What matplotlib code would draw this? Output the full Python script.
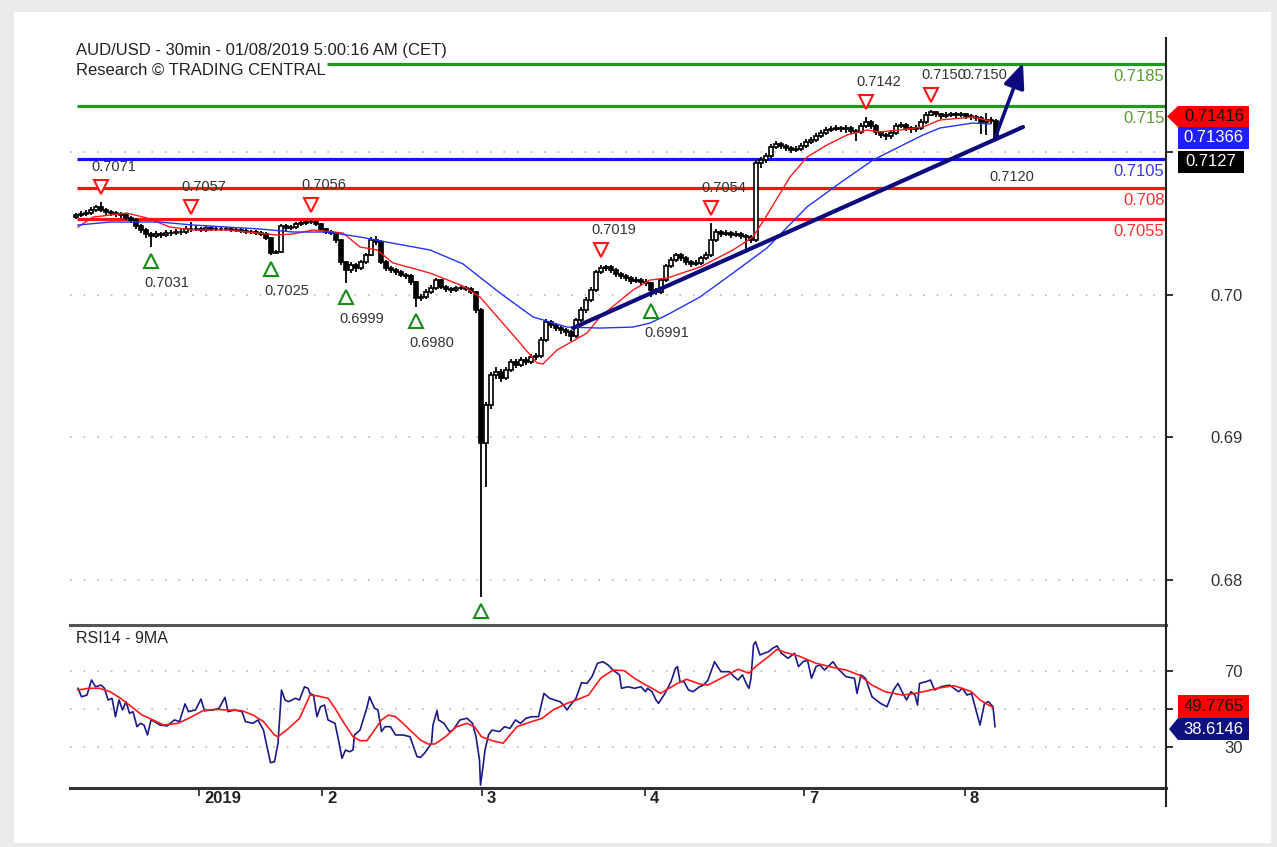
import matplotlib
matplotlib.use('Agg')
import matplotlib.pyplot as plt
import numpy as np
from matplotlib.patches import Rectangle, Polygon
from matplotlib.lines import Line2D
from matplotlib.transforms import offset_copy, ScaledTranslation, blended_transform_factory

plt.rcParams['font.family'] = ['Liberation Sans', 'DejaVu Sans']

# ---------------- data ----------------
# 30-min candles, prices in 1e-5 units (70561 -> 0.70561)
first_open = 70550
closes = [
    70561, 70568, 70575, 70597, 70618, 70597, 70582, 70575, 70568, 70561,
    70540, 70526, 70484, 70456, 70428, 70414, 70428, 70421, 70435, 70435,
    70442, 70442, 70463, 70463, 70463, 70456, 70470, 70463, 70463, 70463,
    70463, 70456, 70456, 70449, 70442, 70442, 70435, 70428, 70400, 70295,
    70302, 70484, 70470, 70477, 70498, 70505, 70512, 70512, 70498, 70463,
    70442, 70435, 70386, 70232, 70175, 70211, 70189, 70232, 70281, 70386,
    70372, 70232, 70189, 70175, 70161, 70140, 70133, 70091, 69979, 69986,
    70021, 70049, 70105, 70056, 70042, 70035, 70049, 70049, 70042, 70021,
    69895, 68961, 69228, 69439, 69460, 69418, 69474, 69530, 69509, 69544,
    69530, 69565, 69572, 69684, 69811, 69789, 69768, 69754, 69740, 69712,
    69825, 69895, 69965, 70035, 70161, 70189, 70196, 70175, 70147, 70133,
    70119, 70098, 70105, 70091, 70084, 70035, 70021, 70105, 70204, 70246,
    70281, 70260, 70232, 70218, 70225, 70260, 70281, 70386, 70442, 70428,
    70435, 70421, 70428, 70414, 70407, 70386, 70926, 70947, 70975, 71039,
    71060, 71046, 71032, 71018, 71025, 71046, 71074, 71088, 71116, 71137,
    71158, 71165, 71172, 71165, 71172, 71151, 71144, 71186, 71214, 71186,
    71144, 71123, 71116, 71137, 71186, 71193, 71172, 71165, 71172, 71214,
    71263, 71284, 71270, 71256, 71263, 71270, 71263, 71270, 71256, 71249,
    71242, 71214, 71228, 71221, 71109]
highs = [
    70575, 70589, 70596, 70618, 70632, 70653, 70611, 70596, 70589, 70582,
    70575, 70554, 70540, 70498, 70470, 70442, 70449, 70442, 70456, 70456,
    70463, 70463, 70484, 70512, 70484, 70477, 70491, 70484, 70477, 70484,
    70477, 70477, 70470, 70470, 70463, 70456, 70456, 70449, 70442, 70407,
    70316, 70498, 70498, 70491, 70512, 70519, 70519, 70526, 70519, 70505,
    70470, 70456, 70442, 70393, 70239, 70232, 70225, 70246, 70295, 70407,
    70414, 70386, 70246, 70203, 70189, 70175, 70154, 70147, 70098, 70007,
    70042, 70070, 70119, 70112, 70070, 70056, 70063, 70063, 70063, 70056,
    70028, 69909, 69249, 69460, 69495, 69481, 69495, 69551, 69551, 69565,
    69565, 69586, 69593, 69705, 69832, 69825, 69804, 69782, 69768, 69754,
    69839, 69916, 69986, 70056, 70175, 70211, 70210, 70210, 70189, 70161,
    70147, 70133, 70126, 70119, 70112, 70091, 70049, 70119, 70218, 70267,
    70295, 70295, 70274, 70246, 70246, 70274, 70302, 70505, 70463, 70456,
    70456, 70449, 70449, 70442, 70428, 70421, 70947, 70968, 70996, 71060,
    71081, 71074, 71060, 71046, 71046, 71067, 71095, 71109, 71137, 71158,
    71179, 71186, 71193, 71186, 71193, 71186, 71165, 71207, 71249, 71228,
    71200, 71151, 71137, 71158, 71207, 71214, 71207, 71186, 71193, 71235,
    71284, 71298, 71291, 71277, 71284, 71284, 71284, 71284, 71277, 71270,
    71263, 71256, 71277, 71249, 71235]
lows = [
    70536, 70547, 70554, 70561, 70582, 70582, 70561, 70554, 70547, 70540,
    70526, 70505, 70463, 70435, 70400, 70337, 70400, 70400, 70407, 70414,
    70421, 70421, 70428, 70442, 70449, 70442, 70442, 70449, 70449, 70449,
    70449, 70442, 70442, 70435, 70428, 70428, 70421, 70414, 70386, 70281,
    70288, 70295, 70449, 70456, 70463, 70484, 70491, 70498, 70484, 70449,
    70428, 70421, 70365, 70211, 70084, 70154, 70161, 70175, 70218, 70274,
    70351, 70218, 70168, 70154, 70140, 70126, 70112, 70070, 69916, 69958,
    69972, 70007, 70035, 70042, 70021, 70014, 70021, 70035, 70028, 70007,
    69874, 67881, 68653, 69200, 69411, 69390, 69404, 69460, 69488, 69495,
    69509, 69516, 69544, 69558, 69670, 69768, 69747, 69726, 69712, 69677,
    69698, 69811, 69874, 69951, 70021, 70147, 70168, 70154, 70126, 70112,
    70098, 70077, 70084, 70070, 70063, 69986, 70000, 70007, 70091, 70189,
    70232, 70239, 70211, 70197, 70204, 70211, 70246, 70267, 70372, 70407,
    70414, 70400, 70407, 70393, 70295, 70365, 70372, 70891, 70926, 70961,
    71025, 71025, 71011, 70996, 71004, 71011, 71032, 71060, 71074, 71102,
    71123, 71144, 71151, 71144, 71137, 71130, 71081, 71130, 71172, 71165,
    71123, 71102, 71088, 71095, 71123, 71172, 71151, 71137, 71144, 71158,
    71200, 71256, 71249, 71235, 71242, 71249, 71242, 71249, 71235, 71228,
    71221, 71130, 71123, 71200, 71088]

# moving averages (bar position, price 1e-5)
red_ma_x = [0.4, 3.4, 10.2, 14.2, 18.8, 23.4, 30.2, 34.2, 40.2, 43.4, 47.4, 53.4, 56.8, 60.2,
            63.4, 70.8, 77.4, 80.8, 84.8, 88.8, 92.2, 93.4, 96.2, 102.2, 104.8, 111.4, 114.8,
            118.2, 124.8, 131.4, 135.4, 138.2, 142.8, 146.2, 150.2, 154.2, 158.2, 160.8, 164.8,
            169.4, 172.8, 179.4, 182.8]
red_ma_v = [70477, 70547, 70575, 70540, 70477, 70456, 70456, 70442, 70421, 70428, 70456, 70435,
            70337, 70316, 70225, 70154, 70063, 69986, 69825, 69663, 69523, 69516, 69614, 69733,
            69846, 70035, 70105, 70119, 70196, 70316, 70407, 70561, 70828, 70968, 71053, 71123,
            71158, 71144, 71158, 71179, 71228, 71249, 71221]
blue_ma_x = [0.4, 6.8, 16.8, 23.4, 36.8, 43.4, 50.2, 56.8, 64.2, 70.8, 77.4, 84.8, 91.4, 98.2,
             104.8, 111.4, 114.8, 118.2, 124.8, 131.4, 138.2, 146.2, 152.8, 159.4, 166.2, 169.4,
             172.8, 179.4, 182.8]
blue_ma_v = [70491, 70512, 70512, 70491, 70463, 70442, 70442, 70407, 70358, 70316, 70218, 70014,
             69846, 69775, 69768, 69775, 69803, 69860, 69986, 70154, 70330, 70618, 70786, 70947,
             71067, 71123, 71172, 71207, 71200]

# pivots
pivot_high_idx = [5, 23, 47, 105, 127, 158, 171]
pivot_high_lbl = ['0.7071', '0.7057', '0.7056', '0.7019', '0.7054', '0.7142', '0.7150']
pivot_low_idx = [15, 39, 54, 68, 81, 115]
pivot_low_lbl = ['0.7031', '0.7025', '0.6999', '0.6980', '', '0.6991']
extra_lbl = ['0.7150', '0.7120']
extra_lbl_x = [181.8, 187.2]
extra_lbl_y = [0.715439, 0.708281]

# support / resistance levels (drawn value, label)
level_vals = [0.716211, 0.713263, 0.709544, 0.707509, 0.705333]
level_start = [50.2, 0.2, 0.2, 0.2, 0.2]
level_labels = ['0.7185', '0.715', '0.7105', '0.708', '0.7055']
level_kind = ['g', 'g', 'b', 'r', 'r']

trend_x = [99.4, 189.4]
trend_y = [0.697684, 0.711789]
arrow_from = (183.8, 0.711018)
arrow_to = (189.4, 0.716281)

price_ticks = [0.68, 0.69, 0.70, 0.71]
price_tick_lbl = ['0.68', '0.69', '0.70', '']
date_pos = [24.6, 49.2, 81.2, 113.8, 145.6, 177.8]
date_lbl = ['2019', '2', '3', '4', '7', '8']

# RSI14 and its 9MA
rsi_x = [0.4, 1.1, 2.2, 3.1, 3.9, 5.0, 5.7, 6.4, 7.2, 7.9, 8.6, 9.3, 10.0, 10.7, 11.4, 12.2, 12.9,
         13.6, 14.3, 15.0, 15.7, 16.8, 18.2, 19.7, 20.7, 21.8, 22.5, 23.9, 25.0, 25.7, 27.5, 28.6,
         29.8, 30.4, 31.8, 33.2, 33.9, 35.4, 36.4, 37.5, 38.2, 38.9, 39.7, 40.4, 41.1, 41.8, 42.5,
         43.9, 44.7, 45.7, 46.4, 46.8, 47.5, 48.2, 48.9, 49.7, 50.4, 51.8, 52.5, 53.2, 53.9, 54.7,
         55.4, 55.7, 56.8, 58.2, 58.7, 59.7, 60.4, 61.1, 61.8, 62.9, 63.9, 65.4, 66.8, 67.5, 68.2,
         68.9, 69.7, 71.1, 71.4, 72.2, 72.5, 73.6, 74.7, 75.4, 76.8, 78.2, 79.3, 80.0, 80.7, 80.9,
         81.4, 81.8, 82.5, 83.2, 84.7, 85.7, 86.8, 87.9, 88.9, 90.0, 91.1, 92.5, 93.6, 94.7, 95.7,
         96.8, 97.5, 98.2, 98.9, 100.0, 101.1, 102.2, 103.2, 104.3, 105.4, 106.4, 107.4, 108.7,
         109.1, 110.4, 111.7, 113.0, 113.9, 114.3, 115.2, 116.0, 116.5, 117.8, 119.0, 119.9,
         120.3, 120.8, 121.6, 122.5, 123.4, 124.7, 125.5, 126.4, 127.7, 129.0, 130.7, 131.6,
         132.4, 133.3, 134.2, 134.6, 135.0, 135.5, 135.9, 136.8, 137.6, 138.5, 139.3, 140.2,
         141.1, 142.4, 143.7, 144.5, 145.4, 146.3, 147.1, 148.0, 148.8, 149.7, 151.4, 152.3,
         154.0, 155.7, 156.2, 157.0, 157.9, 159.2, 160.9, 162.2, 163.5, 164.4, 165.2, 166.1,
         167.0, 167.8, 168.3, 168.7, 170.0, 170.9, 171.7, 173.0, 174.7, 176.5, 177.3, 178.2,
         179.1, 179.9, 180.8, 181.7, 182.5, 183.4, 183.8]
rsi_v = [61.0, 56.5, 57.4, 65.4, 61.8, 62.7, 61.0, 54.8, 55.7, 45.9, 54.8, 49.5, 53.9, 47.7, 48.6,
         40.6, 42.4, 41.5, 36.2, 44.2, 43.3, 41.5, 41.0, 44.2, 43.3, 52.7, 48.6, 49.5, 55.3, 49.1,
         49.5, 50.4, 56.2, 48.6, 49.5, 48.6, 43.3, 42.4, 44.2, 38.8, 30.0, 21.5, 22.0, 31.8, 60.1,
         54.8, 53.9, 55.7, 54.8, 61.8, 61.0, 58.3, 57.4, 45.9, 51.2, 52.1, 44.2, 42.4, 33.5, 23.8,
         28.2, 27.3, 28.2, 36.2, 38.8, 50.9, 56.5, 50.4, 49.5, 38.0, 40.6, 40.6, 36.2, 36.2, 35.3,
         30.0, 24.7, 24.3, 26.5, 31.8, 41.5, 49.1, 44.2, 42.4, 38.0, 38.8, 44.2, 45.1, 42.4, 35.3,
         22.9, 9.6, 19.4, 28.2, 36.2, 38.8, 38.0, 40.6, 39.7, 44.2, 42.4, 45.1, 45.9, 45.9, 58.3,
         55.7, 54.8, 53.9, 52.1, 49.5, 52.1, 55.7, 64.0, 63.6, 67.2, 74.3, 75.1, 73.4, 70.7, 68.1,
         61.0, 61.8, 61.0, 61.8, 59.2, 61.0, 59.2, 54.8, 53.0, 58.3, 64.5, 71.6, 72.5, 64.5, 64.5,
         60.1, 59.2, 61.8, 62.7, 65.4, 75.1, 69.8, 69.8, 67.2, 65.4, 68.1, 62.7, 61.0, 66.3, 84.0,
         85.7, 78.7, 79.6, 80.4, 82.2, 83.5, 79.6, 76.9, 79.6, 72.5, 75.1, 76.0, 66.3, 72.5, 73.4,
         70.7, 75.1, 71.6, 67.2, 66.3, 58.3, 68.1, 66.3, 56.5, 53.0, 51.2, 60.1, 63.6, 59.2, 54.8,
         59.2, 57.4, 52.1, 63.6, 64.5, 65.4, 60.1, 61.8, 62.7, 59.2, 61.0, 57.4, 58.3, 50.4, 41.5,
         53.0, 53.9, 51.2, 40.6]
rsi_ma_x = [0.4, 2.5, 4.7, 6.8, 8.9, 11.1, 13.2, 15.4, 17.5, 20.4, 22.5, 25.4, 27.5, 30.4, 33.2,
            35.4, 37.5, 39.7, 40.4, 42.5, 44.7, 46.8, 48.2, 50.4, 51.8, 53.2, 55.4, 56.8, 58.2,
            59.7, 61.1, 62.5, 63.9, 65.4, 66.8, 68.9, 70.4, 71.8, 73.9, 76.1, 78.2, 79.7, 81.1,
            83.2, 85.4, 86.8, 88.2, 91.1, 93.2, 95.4, 98.2, 99.7, 102.5, 105.0, 107.4, 109.6,
            111.7, 113.4, 115.2, 116.9, 118.6, 120.3, 122.1, 124.7, 126.4, 129.0, 132.4, 134.6,
            135.9, 138.5, 140.2, 141.9, 144.5, 148.0, 151.4, 154.0, 156.6, 159.2, 161.8, 165.3,
            167.8, 170.4, 172.2, 175.6, 179.1, 180.8, 182.5, 183.4]
rsi_ma_v = [60.1, 61.0, 61.0, 59.2, 55.7, 51.2, 46.8, 44.2, 41.5, 42.4, 45.0, 49.1, 49.8, 49.5,
            49.1, 46.8, 43.3, 36.2, 35.3, 39.7, 45.0, 57.4, 57.0, 55.7, 50.4, 44.2, 35.3, 33.2,
            33.2, 38.8, 44.2, 46.8, 45.9, 42.4, 38.8, 33.5, 31.4, 31.4, 35.3, 40.6, 42.4, 40.6,
            35.3, 33.2, 31.8, 36.2, 40.6, 43.3, 45.0, 49.5, 53.0, 54.4, 57.4, 66.5, 70.7, 70.4,
            66.3, 63.6, 61.0, 58.3, 61.0, 63.6, 65.8, 63.3, 62.7, 66.3, 71.1, 69.0, 72.5, 77.8,
            81.7, 80.0, 78.2, 74.3, 72.1, 70.7, 68.1, 62.7, 59.2, 57.4, 58.3, 59.7, 61.0, 62.4,
            59.2, 54.8, 52.1, 50.9]
rsi_ticks = [30, 50, 70]
rsi_tick_lbl = ['30', '', '70']

# --------------- layout helpers ---------------
W, H = 1277, 847
def fx(x): return x / W
def fy(y): return 1 - y / H

C_GREEN = '#1f9a1f'
C_BLUE = '#1414f0'
C_RED = '#ff1414'
C_NAVY = '#0b0b7d'
level_line_col = {'g': C_GREEN, 'b': C_BLUE, 'r': C_RED}
level_txt_col = {'g': '#5a9e2a', 'b': '#3a3ad8', 'r': '#ff3030'}

fig = plt.figure(figsize=(W / 100, H / 100), dpi=100, facecolor='#ebebeb')
fig.patches.append(Rectangle((fx(14), fy(843)), fx(1271) - fx(14), fy(12) - fy(843),
                             transform=fig.transFigure, facecolor='white', edgecolor='none', zorder=-5))

XMIN, XMAX = -1.2, 218

# --------------- main price panel ---------------
ax = fig.add_axes([fx(70), fy(625), 1096 / W, 587 / H])
ax.patch.set_visible(False)
ax.set_xlim(XMIN, XMAX)
ax.set_ylim(0.676842, 0.718035)
for s in ['left', 'top', 'right']:
    ax.spines[s].set_visible(False)
ax.spines['bottom'].set_color('#555555')
ax.spines['bottom'].set_linewidth(2.2)
ax.tick_params(axis='x', bottom=False, labelbottom=False)
ax.yaxis.tick_right()
ax.set_yticks(price_ticks)
ax.set_yticklabels(price_tick_lbl)
ax.tick_params(axis='y', direction='out', length=5, width=1.3, color='#222222', pad=27,
               labelsize=12, labelcolor='#333333')

for v in price_ticks:
    ax.axhline(v, color='#c2c2c2', lw=1.3, dashes=(1, 6.5), zorder=0.5)

# levels
for v, s, lbl, k in zip(level_vals, level_start, level_labels, level_kind):
    ax.hlines(v, s, XMAX, color=level_line_col[k], lw=2.3, zorder=2)
    ax.annotate(lbl, xy=(1, v), xycoords=('axes fraction', 'data'), xytext=(-1, -8.8),
                textcoords='offset points', ha='right', va='center', fontsize=12,
                color=level_txt_col[k], zorder=8)

# candles
c = np.array(closes) / 1e5
o = np.r_[first_open, closes[:-1]] / 1e5
h = np.array(highs) / 1e5
l = np.array(lows) / 1e5
x = np.arange(len(c))
h = np.maximum(h, np.maximum(o, c))
l = np.minimum(l, np.minimum(o, c))
ax.vlines(x, l, h, color='black', lw=1.3, zorder=3)
up = c >= o
bot = np.minimum(o, c)
hei = np.maximum(np.abs(c - o), 0.00001)
ax.bar(x[up], hei[up], bottom=bot[up], width=0.8, facecolor='white', edgecolor='black',
       lw=1.2, zorder=4)
ax.bar(x[~up], hei[~up], bottom=bot[~up], width=0.8, facecolor='black', edgecolor='black',
       lw=1.2, zorder=4)

# moving averages
ax.plot(red_ma_x, np.array(red_ma_v) / 1e5, color='#ff1a1a', lw=1.0, zorder=5)
ax.plot(blue_ma_x, np.array(blue_ma_v) / 1e5, color='#2233ff', lw=1.0, zorder=5)

# trend line and arrow
ax.plot(trend_x, trend_y, color=C_NAVY, lw=3.0, solid_capstyle='round', zorder=6)
ax.annotate('', xy=arrow_to, xytext=arrow_from,
            arrowprops=dict(arrowstyle='-|>,head_length=0.75,head_width=0.32', color=C_NAVY,
                            lw=2.6, mutation_scale=20, shrinkA=0, shrinkB=0), zorder=6)

# pivots
tr_up = offset_copy(ax.transData, fig=fig, x=0, y=15, units='dots')
tr_dn = offset_copy(ax.transData, fig=fig, x=0, y=-14, units='dots')
ph_x = pivot_high_idx
ph_y = [h[i] for i in pivot_high_idx]
pl_x = pivot_low_idx
pl_y = [l[i] for i in pivot_low_idx]
ax.plot(ph_x, ph_y, 'v', transform=tr_up, ms=10, mfc='white', mec=C_RED, mew=1.5,
        zorder=7, clip_on=False)
ax.plot(pl_x, pl_y, '^', transform=tr_dn, ms=10, mfc='white', mec='#178a17', mew=1.5,
        zorder=7, clip_on=False)
for xi, yi, lbl in zip(ph_x, ph_y, pivot_high_lbl):
    ax.annotate(lbl, xy=(xi, yi), xytext=(13 * 0.72, 35 * 0.72), textcoords='offset points',
                ha='center', va='center', fontsize=10.5, color='#333333', zorder=8)
for xi, yi, lbl in zip(pl_x, pl_y, pivot_low_lbl):
    if lbl:
        ax.annotate(lbl, xy=(xi, yi), xytext=(16 * 0.72, -36 * 0.72), textcoords='offset points',
                    ha='center', va='center', fontsize=10.5, color='#333333', zorder=8)
for lbl, xi, yi in zip(extra_lbl, extra_lbl_x, extra_lbl_y):
    ax.text(xi, yi, lbl, ha='center', va='center', fontsize=10.5, color='#333333', zorder=8)

# --------------- RSI panel ---------------
rax = fig.add_axes([fx(70), fy(788), 1096 / W, 163 / H])
rax.patch.set_visible(False)
rax.set_xlim(XMIN, XMAX)
rax.set_ylim(8.05, 94.61)
for s in ['left', 'top', 'right']:
    rax.spines[s].set_visible(False)
rax.spines['bottom'].set_color('#333333')
rax.spines['bottom'].set_linewidth(2.2)
rax.yaxis.tick_right()
rax.set_yticks(rsi_ticks)
rax.set_yticklabels(rsi_tick_lbl)
rax.tick_params(axis='y', direction='out', length=5, width=1.3, color='#222222', pad=37,
                labelsize=12, labelcolor='#333333')
rax.set_xticks(date_pos)
rax.set_xticklabels([])
rax.tick_params(axis='x', direction='out', length=6, width=1.3, color='#333333')
btr = blended_transform_factory(rax.transData, rax.transAxes) + \
    ScaledTranslation(5 / 100, -10 / 100, fig.dpi_scale_trans)
for p, lbl in zip(date_pos, date_lbl):
    rax.text(p, 0, lbl, transform=btr, ha='left', va='center', fontsize=12,
             fontweight='bold', color='#222222', clip_on=False)
for v in rsi_ticks:
    rax.axhline(v, color='#c2c2c2', lw=1.3, dashes=(1, 6.5), zorder=0.5)
rax.plot(rsi_x, rsi_v, color='#1a1a8a', lw=1.2, zorder=3)
rax.plot(rsi_ma_x, rsi_ma_v, color='#ff1a1a', lw=1.2, zorder=4)

# --------------- frame line on the right ---------------
fig.add_artist(Line2D([fx(1166), fx(1166)], [fy(38), fy(806)], transform=fig.transFigure,
                      color='#222222', lw=1.5))

# --------------- texts ---------------
fig.text(fx(76), fy(50), 'AUD/USD - 30min - 01/08/2019 5:00:16 AM (CET)', ha='left',
         va='center', fontsize=12, color='#222222')
fig.text(fx(76), fy(70), 'Research \u00a9 TRADING CENTRAL', ha='left', va='center',
         fontsize=12, color='#222222')
fig.text(fx(76), fy(638), 'RSI14 - 9MA', ha='left', va='center', fontsize=11.5, color='#222222')

# --------------- value boxes ---------------
def box(pts, col, txt, tcol, cx, cy):
    fig.patches.append(Polygon([(fx(a), fy(b)) for a, b in pts], closed=True,
                               transform=fig.transFigure, facecolor=col, edgecolor='none',
                               zorder=5))
    fig.text(fx(cx), fy(cy), txt, ha='center', va='center', fontsize=12, color=tcol, zorder=6)

box([(1167, 116.5), (1178, 106), (1249, 106), (1249, 127), (1178, 127)], '#ff0000',
    '0.71416', '#111111', 1214, 116.5)
box([(1178, 127), (1249, 127), (1249, 149), (1178, 149)], '#2020ff', '0.71366', 'white',
    1213.5, 138)
box([(1178, 151), (1244, 151), (1244, 173), (1178, 173)], '#000000', '0.7127', 'white',
    1211, 162)
box([(1178, 695), (1249, 695), (1249, 718), (1178, 718)], '#ff0000', '49.7765', '#111111',
    1213.5, 706.5)
box([(1169, 729), (1178, 718), (1249, 718), (1249, 740), (1178, 740)], '#101080', '38.6146',
    'white', 1213.5, 729)

fig.savefig('out.png', dpi=100, facecolor=fig.get_facecolor())
